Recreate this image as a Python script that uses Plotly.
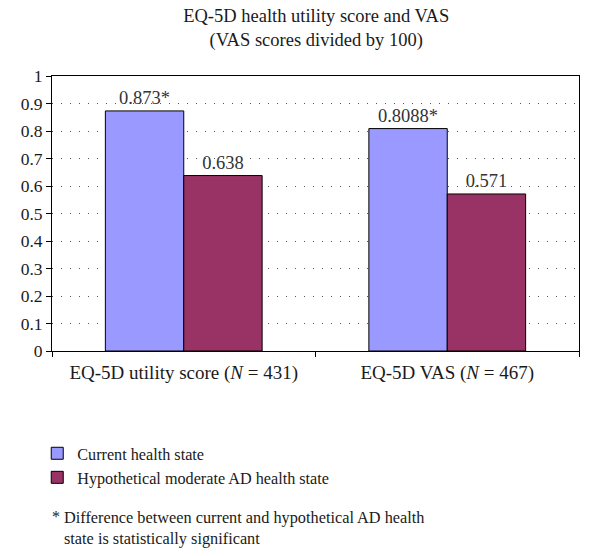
import plotly.graph_objects as go

categories = ["EQ-5D utility score (<i>N</i> = 431)", "EQ-5D VAS (<i>N</i> = 467)"]
current = [0.873, 0.8088]
hypothetical = [0.638, 0.571]
current_labels = ["0.873*", "0.8088*"]
hypothetical_labels = ["0.638", "0.571"]
series_names = ["Current health state", "Hypothetical moderate AD health state"]
y_ticks = [0, 0.1, 0.2, 0.3, 0.4, 0.5, 0.6, 0.7, 0.8, 0.9, 1]
y_tick_labels = ["0", "0.1", "0.2", "0.3", "0.4", "0.5", "0.6", "0.7", "0.8", "0.9", "1"]

FONT = "Liberation Serif"
TXT = "#1a1a1a"

fig = go.Figure()
fig.add_trace(go.Bar(
    x=categories, y=current, name=series_names[0],
    marker=dict(color="#9999FF", line=dict(color="#000000", width=1)),
    text=current_labels, textposition="outside", cliponaxis=False,
    textfont=dict(family=FONT, size=18.5, color="#333333"),
))
fig.add_trace(go.Bar(
    x=categories, y=hypothetical, name=series_names[1],
    marker=dict(color="#993366", line=dict(color="#000000", width=1)),
    text=hypothetical_labels, textposition="outside", cliponaxis=False,
    textfont=dict(family=FONT, size=18.5, color="#333333"),
))

fig.update_layout(
    width=600, height=556,
    margin=dict(l=52, r=21, t=76, b=205),
    paper_bgcolor="white", plot_bgcolor="white",
    font=dict(family=FONT, size=18, color=TXT),
    barmode="group", bargap=0.405, bargroupgap=0,
    title=dict(text="EQ-5D health utility score and VAS<br>(VAS scores divided by 100)",
               x=0.527, xanchor="center", y=0.96, yanchor="top",
               font=dict(family=FONT, size=18.5, color=TXT)),
    showlegend=True,
    legend=dict(x=-0.028, xanchor="left", y=-0.31, yanchor="top",
                font=dict(family=FONT, size=16.2, color=TXT),
                bgcolor="rgba(0,0,0,0)", tracegroupgap=0, itemclick=False),
)
fig.update_yaxes(
    range=[0, 1], tickvals=y_ticks, ticktext=y_tick_labels,
    showgrid=True, gridcolor="#555555", gridwidth=1, griddash="1px,8px",
    showline=True, linecolor="#000000", linewidth=1, mirror=True,
    ticks="outside", ticklen=5, tickcolor="#000000",
    zeroline=False, tickfont=dict(family=FONT, size=17.5, color=TXT),
)
fig.update_xaxes(
    showline=True, linecolor="#000000", linewidth=1, mirror=True,
    ticks="outside", ticklen=5, tickcolor="#000000", tickson="boundaries",
    ticklabelstandoff=4,
    tickfont=dict(family=FONT, size=19, color=TXT),
)
fig.add_annotation(
    text="*", xref="paper", yref="paper", x=-0.004, y=-0.562,
    xanchor="left", yanchor="top", showarrow=False,
    font=dict(family=FONT, size=16, color=TXT),
)
fig.add_annotation(
    text="Difference between current and hypothetical AD health<br>state is statistically significant",
    xref="paper", yref="paper", x=0.019, y=-0.562, align="left",
    xanchor="left", yanchor="top", showarrow=False,
    font=dict(family=FONT, size=16.3, color=TXT),
)

fig.write_html("out.html", config={"displayModeBar": False},
               post_script="document.body.style.margin='0';")
